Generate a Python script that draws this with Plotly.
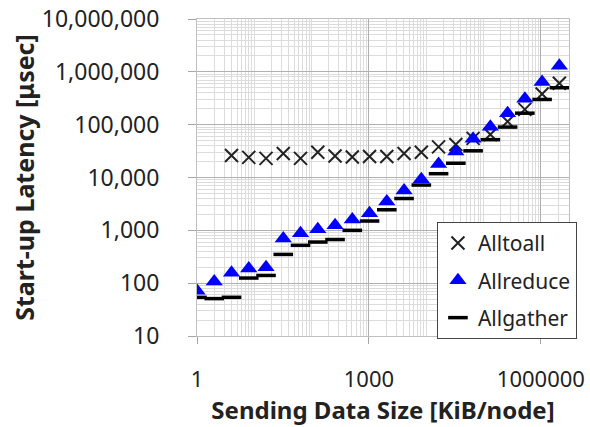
import plotly.graph_objects as go

# Data (KiB/node, start-up latency in microseconds)
size_kib = [2 ** k for k in range(22)]
alltoall_size = size_kib[2:]
alltoall = [26000, 24000, 23000, 28500, 23000, 30000, 25500, 24500, 25000, 25000,
            28500, 30000, 38000, 42000, 55000, 65000, 115000, 195000, 380000, 610000]
allreduce = [72, 107, 158, 190, 200, 700, 880, 1050, 1250, 1600, 2100, 3500, 5700,
             9300, 18000, 31000, 54000, 91000, 165000, 310000, 640000, 1300000]
allgather = [54, 51, 54, 125, 140, 350, 520, 600, 670, 1000, 1500, 2450, 4000, 7200,
             11800, 18600, 32000, 52000, 90000, 165000, 300000, 500000]

y_tickvals = [10, 100, 1000, 10000, 100000, 1000000, 10000000]
y_ticktext = ["10", "100", "1,000", "10,000", "100,000", "1,000,000", "10,000,000"]
x_tickvals = [1, 1000, 1000000]
x_ticktext = ["1", "1000", "1000000"]

FONT = "Noto Sans, Open Sans, sans-serif"

fig = go.Figure()
fig.add_trace(go.Scatter(
    x=alltoall_size, y=alltoall, mode="markers", name="Alltoall", legendgroup="a",
    marker=dict(symbol="x-thin", size=13, color="#222222",
                line=dict(width=2, color="#222222")),
))
fig.add_trace(go.Scatter(
    x=size_kib, y=allreduce, mode="markers", name="Allreduce", legendgroup="b",
    marker=dict(symbol="triangle-up", size=15, color="#0000ff",
                line=dict(width=0)),
))
fig.add_trace(go.Scatter(
    x=size_kib, y=allgather, mode="markers", name="Allgather", legendgroup="c",
    marker=dict(symbol="line-ew", size=14, color="#000000",
                line=dict(width=3.5, color="#000000")),
))

fig.update_layout(
    width=590, height=427,
    margin=dict(l=197, r=21, t=19, b=91),
    paper_bgcolor="white", plot_bgcolor="white",
    font=dict(family=FONT, size=22, color="#222222"),
    showlegend=True,
    legend=dict(
        x=0.645, y=0.36, xanchor="left", yanchor="top",
        bgcolor="white", bordercolor="#444444", borderwidth=1,
        font=dict(family=FONT, size=21, color="#222222"),
        tracegroupgap=7, itemwidth=30,
    ),
)

fig.update_xaxes(
    type="log", range=[0, 6.49], automargin=False,
    tickmode="array", tickvals=x_tickvals, ticktext=x_ticktext,
    tickfont=dict(size=22), ticklabeloverflow="allow",
    ticks="outside", ticklen=7, tickcolor="#a6a6a6", ticklabelstandoff=17,
    showline=True, linecolor="#bfbfbf", mirror=True,
    showgrid=True, gridcolor="#b0b0b0", gridwidth=1,
    minor=dict(dtick="D1", showgrid=True, gridcolor="#dcdcdc", ticks=""),
    zeroline=False,
    title=dict(text="<b>Sending Data Size [KiB/node]</b>", standoff=5,
               font=dict(family=FONT, size=24, color="#222222")),
)
fig.update_yaxes(
    type="log", range=[1, 7], automargin=False,
    tickmode="array", tickvals=y_tickvals, ticktext=y_ticktext,
    tickfont=dict(size=23), ticklabeloverflow="allow",
    ticks="outside", ticklen=8, tickcolor="#a6a6a6", ticklabelstandoff=24,
    showline=True, linecolor="#bfbfbf", mirror=True,
    showgrid=True, gridcolor="#b0b0b0", gridwidth=1,
    minor=dict(dtick="D1", showgrid=True, gridcolor="#dcdcdc", ticks=""),
    zeroline=False,
    title=dict(text="<b>Start-up Latency [μsec]</b>", standoff=0,
               font=dict(family=FONT, size=25, color="#222222")),
)

# remove the browser's default page margin so the 590x427 figure fills the window
fig.write_html("out.html", config={"displayModeBar": False},
               post_script="document.body.style.margin='0';")
